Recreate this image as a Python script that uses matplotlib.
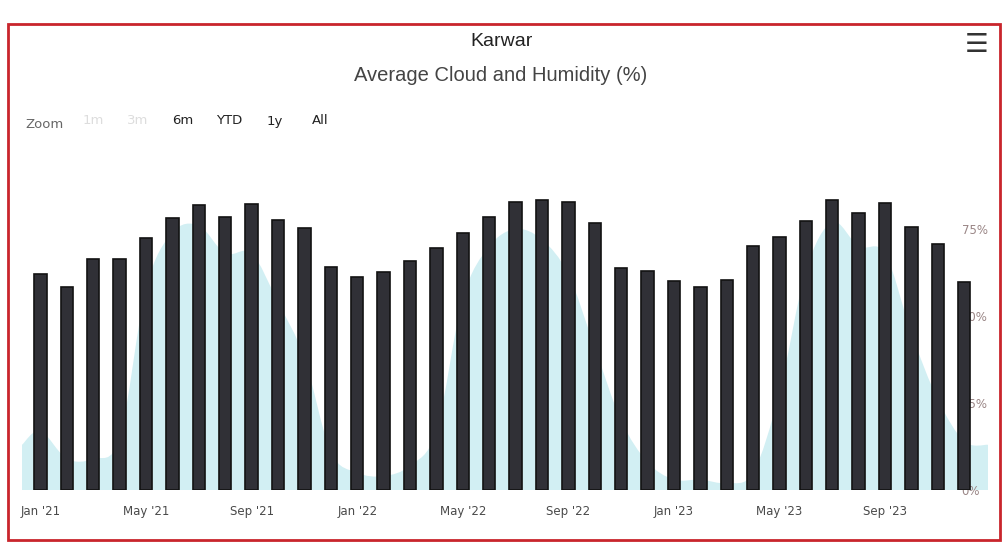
import matplotlib
matplotlib.use('Agg')
import matplotlib.pyplot as plt
import numpy as np
from matplotlib.path import Path
from matplotlib.patches import PathPatch, Rectangle

# monthly values, Jan '21 .. Dec '23
humidity = [62, 58.4, 66.3, 66.3, 72.4, 78.2, 82, 78.4, 82.3, 77.6, 75.3, 64.2,
            61.3, 62.8, 65.7, 69.5, 73.8, 78.6, 82.7, 83.4, 82.7, 76.9, 63.8, 63,
            60.2, 58.4, 60.4, 70.2, 72.6, 77.4, 83.5, 79.5, 82.5, 75.5, 70.7, 59.8]
cloud = [17, 9, 9, 15, 58, 74, 76, 68, 68, 54, 38, 11,
         5, 4, 7, 17, 55, 70, 75, 72, 62, 41, 20, 8,
         3, 3, 2, 5, 28, 63, 77, 70, 68, 45, 26, 14]
tick_labels = ["Jan '21", "May '21", "Sep '21", "Jan '22", "May '22",
               "Sep '22", "Jan '23", "May '23", "Sep '23"]
y_ticks = [0, 25, 50, 75]
zoom_buttons = ['1m', '3m', '6m', 'YTD', '1y', 'All']
zoom_enabled = [False, False, True, True, True, True]

W, H = 1003, 545
fig = plt.figure(figsize=(W / 100, H / 100), dpi=100)
fig.patch.set_facecolor('white')

x_lo, x_hi = -0.7, 35.9
ax = fig.add_axes([22 / W, 1 - 490 / H, (988 - 22) / W, (490 - 170) / H])
ax.set_xlim(x_lo, x_hi)
ax.set_ylim(0, 92)
ax.patch.set_alpha(0)


def spline_area(xs, ys, base=0.0):
	# smooth area outline through the points (cubic bezier segments)
	verts = [(xs[0], base), (xs[0], ys[0])]
	codes = [Path.MOVETO, Path.LINETO]
	n = len(xs)
	for i in range(n - 1):
		xm, ym = (xs[i - 1], ys[i - 1]) if i > 0 else (xs[i], ys[i])
		xp, yp = (xs[i + 2], ys[i + 2]) if i < n - 2 else (xs[i + 1], ys[i + 1])
		c1 = (xs[i] + (xs[i + 1] - xm) / 6, ys[i] + (ys[i + 1] - ym) / 6)
		c2 = (xs[i + 1] - (xp - xs[i]) / 6, ys[i + 1] - (yp - ys[i]) / 6)
		verts += [c1, c2, (xs[i + 1], ys[i + 1])]
		codes += [Path.CURVE4] * 3
	verts += [(xs[-1], base), (xs[0], base)]
	codes += [Path.LINETO, Path.CLOSEPOLY]
	return Path(verts, codes)


xs = np.arange(len(cloud))
area_x = np.concatenate([[x_lo], xs, [x_hi]])
area_y = np.concatenate([[cloud[0] - 4], cloud, [cloud[-1] - 1]])
ax.add_patch(PathPatch(spline_area(area_x, area_y), facecolor='#d2eff3',
                       edgecolor='none', zorder=1))

ax.bar(np.arange(len(humidity)), humidity, width=0.47, color='#303036',
       edgecolor='#121212', linewidth=1.2, zorder=3)

for s in ax.spines.values():
	s.set_visible(False)

ax.set_xticks(np.arange(len(humidity))[::4], tick_labels)
ax.tick_params(axis='x', length=0, pad=11, labelsize=8.5, labelcolor='#4a4a4a')
ax.yaxis.tick_right()
ax.set_yticks(y_ticks, ['{}%'.format(v) for v in y_ticks])
ax.tick_params(axis='y', length=0, pad=-19, labelsize=8.5, labelcolor='#9a8686')

# header
fig.text(502 / W, 1 - 42 / H, 'Karwar', ha='center', va='center',
         fontsize=14, family='Liberation Sans', color='#222222')
fig.text(501 / W, 1 - 75 / H, 'Average Cloud and Humidity (%)', ha='center',
         va='center', fontsize=14.5, family='Liberation Sans', color='#444444')
fig.text(977 / W, 1 - 45 / H, '\u2630', ha='center', va='center',
         fontsize=19, color='#333333')

# range selector
fig.text(25 / W, 1 - 124 / H, 'Zoom', ha='left', va='center',
         fontsize=9.5, color='#666666')
btn_x = [93, 138, 183, 229, 275, 320]
for bx, label, on in zip(btn_x, zoom_buttons, zoom_enabled):
	fig.text(bx / W, 1 - 121 / H, label, ha='center', va='center', fontsize=9.5,
	         color='#222222' if on else '#dddddd')

# red frame round the card
fig.add_artist(Rectangle((8 / W, 1 - 540 / H), (1000 - 8) / W, (540 - 24) / H,
                         transform=fig.transFigure, fill=False,
                         edgecolor='#c9252c', linewidth=2))

fig.savefig('out.png', dpi=100)
